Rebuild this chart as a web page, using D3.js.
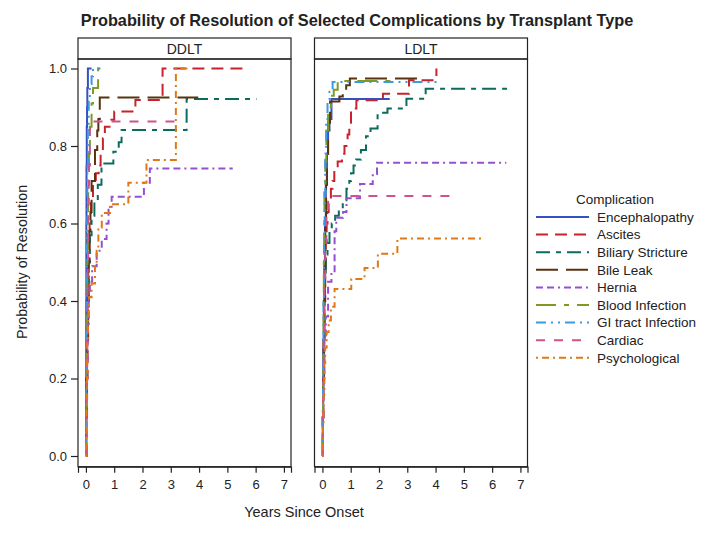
<!DOCTYPE html>
<html><head><meta charset="utf-8">
<script src="https://cdn.jsdelivr.net/npm/d3@7"></script>
<style>body{margin:0;background:#fff}svg{display:block}text{font-family:"Liberation Sans",Arial,sans-serif;fill:#222}</style>
</head><body><svg id="c" width="709" height="534"></svg>
<script>
// ---------- data ----------
const complications = ["Encephalopathy","Ascites","Biliary Stricture","Bile Leak","Hernia","Blood Infection","GI tract Infection","Cardiac","Psychological"];
const panels = ["DDLT","LDLT"];
const xTickValues = [0,1,2,3,4,5,6,7];
const yTickValues = [0.0,0.2,0.4,0.6,0.8,1.0];
const colors = ["#3550c2","#c8232c","#0b6b5c","#5a3210","#9350d0","#7f9a22","#3a9ae2","#cc538c","#e07818"];
const dashes = ["", "12,7", "14,6,5,6", "22,8", "7,4,7,4,2,4", "20,8,5,8", "10,5,2,5,2,5", "9,9", "2,4,7,4"];

// [time, probability] at each jump (DDLT)
const ddltEncephalopathy = [[0,0],[0.005,0.2],[0.01,0.4],[0.015,0.6],[0.02,0.75],[0.03,0.85],[0.04,0.9],[0.05,0.95],[0.07,1.0]];
const ddltAscites = [[0,0],[0.02,0.1],[0.04,0.2],[0.06,0.3],[0.08,0.4],[0.1,0.5],[0.13,0.6],[0.18,0.66],[0.25,0.7],[0.35,0.73],[0.45,0.75],[0.52,0.78],[0.6,0.82],[0.67,0.85],[0.9,0.868],[1.0,0.889],[1.75,0.919],[2.71,1.0]];
const ddltBiliary = [[0,0],[0.01,0.1],[0.02,0.2],[0.04,0.3],[0.07,0.4],[0.1,0.5],[0.14,0.57],[0.2,0.62],[0.3,0.66],[0.42,0.7],[0.55,0.755],[0.97,0.785],[1.16,0.81],[1.26,0.841],[3.56,0.921]];
const ddltBileLeak = [[0,0],[0.01,0.1],[0.02,0.2],[0.04,0.3],[0.06,0.4],[0.08,0.5],[0.12,0.58],[0.16,0.63],[0.2,0.71],[0.32,0.79],[0.4,0.84],[0.44,0.87],[0.49,0.925]];
const ddltHernia = [[0,0],[0.01,0.08],[0.02,0.16],[0.04,0.25],[0.06,0.33],[0.1,0.4],[0.14,0.45],[0.22,0.49],[0.38,0.53],[0.56,0.56],[0.73,0.6],[0.8,0.64],[0.91,0.669],[2.05,0.705],[2.26,0.742]];
const ddltBlood = [[0,0],[0.01,0.1],[0.02,0.2],[0.03,0.3],[0.04,0.4],[0.05,0.5],[0.06,0.6],[0.08,0.7],[0.11,0.78],[0.14,0.85],[0.2,0.91],[0.25,0.95],[0.43,1.0]];
const ddltGI = [[0,0],[0.01,0.2],[0.02,0.4],[0.03,0.6],[0.05,0.75],[0.07,0.85],[0.1,0.92],[0.14,0.96],[0.2,0.98],[0.25,1.0]];
const ddltCardiac = [[0,0],[0.02,0.15],[0.04,0.3],[0.06,0.5],[0.08,0.65],[0.1,0.75],[0.14,0.863]];
const ddltPsych = [[0,0],[0.01,0.06],[0.02,0.12],[0.03,0.18],[0.04,0.24],[0.05,0.3],[0.07,0.36],[0.1,0.41],[0.2,0.445],[0.32,0.49],[0.38,0.53],[0.44,0.59],[0.56,0.627],[0.85,0.65],[1.5,0.705],[2.14,0.764],[3.18,1.0]];
const ddltEnd = [0.2,5.68,6.03,3.97,5.19,0.55,0.6,3.2,3.6];

// LDLT
const ldltEncephalopathy = [[0,0],[0.01,0.1],[0.02,0.2],[0.03,0.3],[0.05,0.4],[0.07,0.5],[0.09,0.6],[0.12,0.7],[0.16,0.78],[0.2,0.84],[0.25,0.87],[0.32,0.921]];
const ldltAscites = [[0,0],[0.02,0.1],[0.04,0.2],[0.06,0.3],[0.08,0.4],[0.1,0.48],[0.12,0.55],[0.15,0.6],[0.18,0.63],[0.22,0.66],[0.3,0.69],[0.36,0.71],[0.42,0.74],[0.54,0.76],[0.69,0.78],[0.78,0.8],[0.89,0.83],[0.95,0.86],[1.01,0.897],[1.2,0.918],[2.14,0.935],[3.06,0.97],[4.03,1.0]];
const ldltBiliary = [[0,0],[0.02,0.1],[0.03,0.2],[0.05,0.3],[0.07,0.4],[0.09,0.47],[0.12,0.52],[0.18,0.55],[0.25,0.58],[0.33,0.6],[0.45,0.62],[0.58,0.635],[0.72,0.66],[0.85,0.69],[0.95,0.71],[1.01,0.73],[1.1,0.75],[1.19,0.765],[1.36,0.79],[1.54,0.825],[1.7,0.845],[1.95,0.886],[2.3,0.897],[2.97,0.922],[3.65,0.948]];
const ldltBileLeak = [[0,0],[0.01,0.1],[0.02,0.2],[0.04,0.3],[0.06,0.4],[0.08,0.5],[0.1,0.6],[0.13,0.7],[0.16,0.78],[0.2,0.86],[0.27,0.915],[0.6,0.928],[0.72,0.942],[0.84,0.957],[0.97,0.974]];
const ldltHernia = [[0,0],[0.02,0.1],[0.04,0.2],[0.07,0.3],[0.12,0.36],[0.2,0.45],[0.32,0.47],[0.43,0.58],[0.49,0.615],[0.73,0.63],[0.85,0.665],[1.33,0.702],[1.78,0.728],[1.93,0.757]];
const ldltBlood = [[0,0],[0.01,0.1],[0.02,0.2],[0.03,0.3],[0.04,0.4],[0.05,0.5],[0.06,0.6],[0.07,0.68],[0.1,0.76],[0.14,0.84],[0.2,0.9],[0.3,0.93],[0.4,0.945],[0.54,0.968]];
const ldltGI = [[0,0],[0.01,0.12],[0.02,0.25],[0.04,0.4],[0.06,0.55],[0.08,0.68],[0.1,0.78],[0.13,0.86],[0.18,0.92],[0.25,0.94],[0.36,0.965]];
const ldltCardiac = [[0,0],[0.02,0.15],[0.04,0.3],[0.07,0.45],[0.1,0.55],[0.14,0.62],[0.2,0.671]];
const ldltPsych = [[0,0],[0.02,0.08],[0.04,0.16],[0.07,0.24],[0.1,0.28],[0.15,0.32],[0.22,0.35],[0.3,0.385],[0.43,0.431],[1.02,0.457],[1.49,0.485],[1.96,0.522],[2.65,0.561]];
const ldltEnd = [2.38,4.03,6.6,3.6,6.5,2.61,4.14,4.5,5.62];

const seriesByPanel = {
  DDLT: {steps:[ddltEncephalopathy,ddltAscites,ddltBiliary,ddltBileLeak,ddltHernia,ddltBlood,ddltGI,ddltCardiac,ddltPsych], end: ddltEnd},
  LDLT: {steps:[ldltEncephalopathy,ldltAscites,ldltBiliary,ldltBileLeak,ldltHernia,ldltBlood,ldltGI,ldltCardiac,ldltPsych], end: ldltEnd}
};

// ---------- layout ----------
const svg = d3.select("#c");
const panelX = [[78,291],[314.5,527.5]];
const headerTop = 38, plotTop = 59, plotBottom = 466.7;
const y = d3.scaleLinear().domain([0,1]).range([456,68.5]);

svg.append("text").attr("x",357).attr("y",26).attr("text-anchor","middle")
  .style("font-weight","bold").style("font-size","16.3px").text("Probability of Resolution of Selected Complications by Transplant Type");

const defs = svg.append("defs");

panels.forEach((name,pi)=>{
  const [x0,x1] = panelX[pi];
  const x = d3.scaleLinear().domain([-0.28,7.25]).range([x0,x1]);
  const g = svg.append("g");
  defs.append("clipPath").attr("id","clip"+pi).append("rect")
    .attr("x",x0).attr("y",plotTop).attr("width",x1-x0).attr("height",plotBottom-plotTop);
  // header
  g.append("rect").attr("x",x0).attr("y",headerTop).attr("width",x1-x0).attr("height",plotTop-headerTop)
    .attr("fill","#fff").attr("stroke","#222").attr("stroke-width",1.2);
  g.append("text").attr("x",(x0+x1)/2).attr("y",54).attr("text-anchor","middle").style("font-size","14px").text(name);
  // panel frame
  g.append("rect").attr("x",x0).attr("y",plotTop).attr("width",x1-x0).attr("height",plotBottom-plotTop)
    .attr("fill","none").attr("stroke","#222").attr("stroke-width",1.2);
  // x axis
  const xa = g.append("g").attr("transform",`translate(0,${plotBottom})`)
    .call(d3.axisBottom(x).tickValues(xTickValues).tickFormat(d3.format("d")).tickSize(6).tickPadding(7));
  xa.select(".domain").attr("stroke","#222").attr("stroke-width",1.2);
  xa.selectAll(".tick line").attr("stroke","#222").attr("stroke-width",1.2);
  xa.selectAll("text").style("font-size","13px").attr("fill","#222");
  if(pi===0){
    const ya = g.append("g").attr("transform",`translate(${x0},0)`)
      .call(d3.axisLeft(y).tickValues(yTickValues).tickFormat(d3.format(".1f")).tickSize(7).tickPadding(4));
    ya.select(".domain").remove();
    ya.selectAll(".tick line").attr("stroke","#222").attr("stroke-width",1.2);
    ya.selectAll("text").style("font-size","13px").attr("fill","#222");
  }
  // curves
  const line = d3.line().x(d=>x(d[0])).y(d=>y(d[1])).curve(d3.curveStepAfter);
  const data = seriesByPanel[name];
  const cg = g.append("g").attr("clip-path",`url(#clip${pi})`);
  data.steps.forEach((pts,i)=>{
    const full = pts.concat([[data.end[i], pts[pts.length-1][1]]]);
    cg.append("path").attr("d",line(full)).attr("fill","none")
      .attr("stroke",colors[i]).attr("stroke-width",2).attr("stroke-dasharray",dashes[i]);
  });
});

// axis labels
svg.append("text").attr("x",304).attr("y",517).attr("text-anchor","middle").style("font-size","14.5px").text("Years Since Onset");
svg.append("text").attr("transform","translate(27,262) rotate(-90)").attr("text-anchor","middle").style("font-size","14.3px").text("Probability of Resolution");

// legend
const lg = svg.append("g");
lg.append("text").attr("x",615).attr("y",204).attr("text-anchor","middle").style("font-size","13.5px").text("Complication");
complications.forEach((c,i)=>{
  const yy = 217 + i*17.6;
  lg.append("line").attr("x1",536).attr("x2",589).attr("y1",yy).attr("y2",yy)
    .attr("stroke",colors[i]).attr("stroke-width",2).attr("stroke-dasharray",dashes[i]);
  lg.append("text").attr("x",597).attr("y",yy+4.7).style("font-size","13.5px").text(c);
});
</script></body></html>
